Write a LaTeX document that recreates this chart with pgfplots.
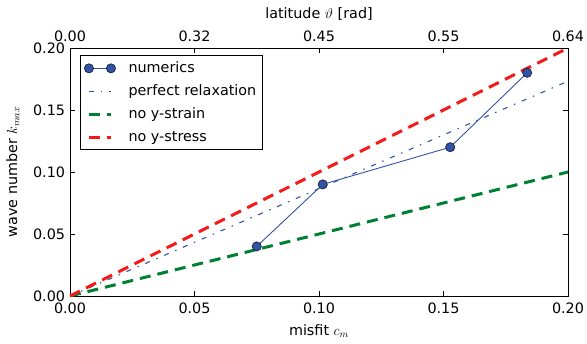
\documentclass[border=0pt]{standalone}
\usepackage{pgfplots}
\pgfplotsset{compat=1.18}
\usepackage{fontspec}
\setmainfont{DejaVu Sans}
\definecolor{numblue}{RGB}{50,82,165}
\definecolor{mgreen}{RGB}{0,128,50}
\definecolor{mred}{RGB}{245,25,25}
\pgfplotsset{
  common/.style={
    scale only axis, width=498bp, height=248bp,
    xmin=0, xmax=0.2, ymin=0, ymax=0.2,
    tick align=inside, tick style={black, line width=0.7pt}, major tick length=5bp,
    axis line style={line width=0.9pt},
    label style={font=\fontsize{14.4}{17}\selectfont},
    ticklabel style={font=\fontsize{14.4}{17}\selectfont},
    /pgf/number format/assume math mode=true,
  }
}
\begin{document}
\fontsize{14.4}{17}\selectfont
\begin{tikzpicture}
\begin{axis}[
  common, name=main,
  xtick={0,0.05,0.1,0.15,0.2}, ytick={0,0.05,0.1,0.15,0.2},
  xticklabels={0.00,0.05,0.10,0.15,0.20},
  yticklabels={0.00,0.05,0.10,0.15,0.20},
  xtick pos=bottom, ytick pos=both,
  xticklabel style={yshift=-2bp},
  xlabel={misfit $c_m$}, ylabel={wave number $k_{max}$},
  xlabel style={yshift=-1bp}, ylabel style={yshift=4bp},
  legend style={draw=black, line width=0.8pt, font=\fontsize{14.4}{17}\selectfont, row sep=6bp, column sep=11bp, inner xsep=4bp, inner ysep=4.5bp, at={(0.02,0.972)}, anchor=north west, cells={anchor=west}},
  legend cell align=left,
  legend image code/.code={\draw[#1] plot coordinates {(0bp,0bp) (22bp,0bp)};},
  clip=true,
]
\addplot[numblue, line width=0.9pt, mark=*, mark size=4.6bp, mark options={solid, fill=numblue, draw=black!75!numblue, line width=0.6pt}] coordinates {(0.075,0.04) (0.1015,0.09) (0.1527,0.12) (0.1836,0.18)};
\addlegendentry{numerics}
\addplot[numblue, line width=1.1bp, dash pattern=on 5bp off 7bp on 1.5bp off 7bp] coordinates {(0,0) (0.2,0.1732)};
\addlegendentry{perfect relaxation}
\addplot[mgreen, line width=3bp, dash pattern=on 11bp off 7bp] coordinates {(0,0) (0.2,0.1)};
\addlegendentry{no y-strain}
\addplot[mred, line width=3bp, dash pattern=on 11bp off 7bp] coordinates {(0,0) (0.2,0.2)};
\addlegendentry{no y-stress}
\end{axis}
\begin{axis}[
  common,
  axis x line*=top, axis y line=none,
  xtick={0,0.05,0.1,0.15,0.2},
  xticklabels={0.00,0.32,0.45,0.55,0.64},
  xticklabel style={yshift=1bp},
  xlabel={latitude $\vartheta$ [rad]},
  xlabel style={yshift=1bp},
]
\end{axis}
\pgfresetboundingbox
\path (main.south west) ++(-70bp,-48bp) coordinate (bbA);
\path (main.north east) ++(19bp,48bp) coordinate (bbB);
\path[use as bounding box] (bbA) rectangle (bbB);
\end{tikzpicture}
\end{document}
